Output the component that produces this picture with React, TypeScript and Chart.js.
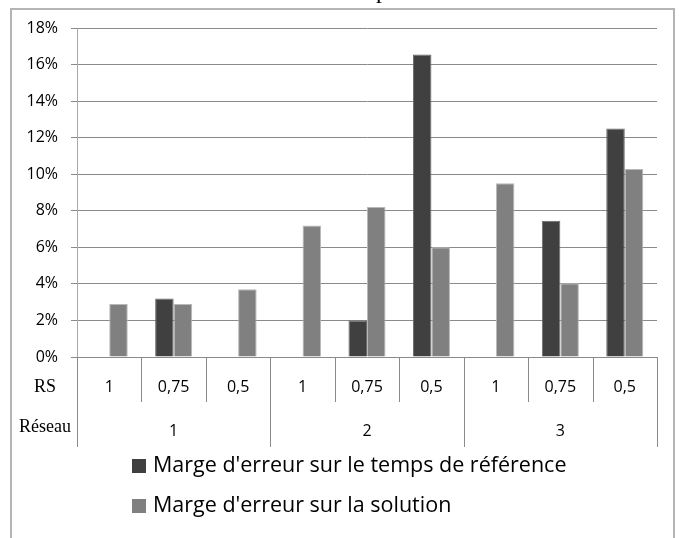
import React, { useEffect, useRef } from "react";
import { Chart, registerables } from "chart.js";

Chart.register(...registerables);

const rsLabels = ["1", "0,75", "0,5", "1", "0,75", "0,5", "1", "0,75", "0,5"];
const reseauLabels = ["1", "2", "3"];
const seriesNames = [
  "Marge d'erreur sur le temps de référence",
  "Marge d'erreur sur la solution",
];
const tempsRef: (number | null)[] = [null, 0.032, null, null, 0.02, 0.1655, null, 0.0745, 0.125];
const solution: (number | null)[] = [0.029, 0.029, 0.037, 0.072, 0.082, 0.06, 0.095, 0.0403, 0.1028];
const seriesColors = ["#404040", "#808080"];
const yTicks = [0, 0.02, 0.04, 0.06, 0.08, 0.1, 0.12, 0.14, 0.16, 0.18];

const SANS = "'Open Sans', 'Noto Sans', sans-serif";
const SERIF = "'Liberation Serif', 'DejaVu Serif', serif";
const LINE = "#8a8a8a";

const tablePlugin = {
  id: "tablePlugin",
  afterDraw(chart: any) {
    const ctx = chart.ctx;
    const x = chart.scales.x;
    const area = chart.chartArea;
    const n = rsLabels.length;
    const step = (area.right - area.left) / n;
    const top = area.bottom;
    const rsBottom = top + 45;
    const resBottom = top + 90;
    ctx.save();

    // outer frame
    ctx.strokeStyle = "#b4b4b4";
    ctx.lineWidth = 2;
    ctx.beginPath();
    ctx.moveTo(11, 560);
    ctx.lineTo(11, 9);
    ctx.lineTo(674, 9);
    ctx.lineTo(674, 560);
    ctx.stroke();

    // title fragment (clipped)
    ctx.fillStyle = "#000";
    ctx.font = `24px ${SERIF}`;
    ctx.textAlign = "center";
    ctx.textBaseline = "alphabetic";
    ctx.fillText("p", 382, -2);

    // table lines
    ctx.strokeStyle = LINE;
    ctx.lineWidth = 1;
    for (let i = 0; i <= n; i++) {
      const px = Math.round(area.left + i * step) + 0.5;
      const isGroup = i % 3 === 0;
      ctx.beginPath();
      ctx.moveTo(px, top);
      ctx.lineTo(px, isGroup ? resBottom : rsBottom);
      ctx.stroke();
    }

    // RS labels
    ctx.fillStyle = "#000";
    ctx.font = `16px ${SANS}`;
    ctx.textAlign = "center";
    ctx.textBaseline = "middle";
    rsLabels.forEach((lab, i) => {
      ctx.fillText(lab, x.getPixelForValue(i), top + 30);
    });
    reseauLabels.forEach((lab, g) => {
      const cx = (x.getPixelForValue(g * 3) + x.getPixelForValue(g * 3 + 2)) / 2;
      ctx.fillText(lab, cx, top + 74);
    });

    ctx.font = `18px ${SERIF}`;
    ctx.fillText("RS", 45, top + 30);
    ctx.fillText("Réseau", 45, top + 70);

    // legend
    ctx.font = `21.5px ${SANS}`;
    ctx.textAlign = "left";
    chart.data.datasets.forEach((ds: any, i: number) => {
      const cy = 466 + i * 40;
      ctx.fillStyle = ds.backgroundColor;
      ctx.fillRect(132, cy - 7, 14, 14);
      ctx.fillStyle = "#000";
      ctx.fillText(ds.label, 153, cy);
    });
    ctx.restore();
  },
};

export default function App() {
  const ref = useRef<HTMLCanvasElement>(null);
  useEffect(() => {
    if (!ref.current) return;
    const chart = new Chart(ref.current, {
      type: "bar",
      data: {
        labels: rsLabels.map((l, i) => `${reseauLabels[Math.floor(i / 3)]}-${l}`),
        datasets: [
          {
            label: seriesNames[0],
            data: tempsRef,
            backgroundColor: seriesColors[0],
            borderColor: "#6a6a6a",
            borderWidth: 1,
          },
          {
            label: seriesNames[1],
            data: solution,
            backgroundColor: seriesColors[1],
            borderColor: "#b8b8b8",
            borderWidth: 1,
          },
        ],
      },
      options: {
        animation: false,
        responsive: false,
        maintainAspectRatio: false,
        layout: { padding: { left: 0, top: 28, right: 22, bottom: 181 } },
        datasets: { bar: { categoryPercentage: 0.575, barPercentage: 1 } },
        plugins: { legend: { display: false }, tooltip: { enabled: false }, title: { display: false } },
        scales: {
          x: { display: false, offset: true },
          y: {
            min: 0,
            max: 0.18,
            afterFit: (s: any) => {
              s.width = 77;
            },
            afterBuildTicks: (s: any) => {
              s.ticks = yTicks.map((v) => ({ value: v }));
            },
            ticks: {
              padding: 13,
              color: "#000",
              font: { family: SANS, size: 16 },
              callback: (v: any) => `${Math.round(Number(v) * 100)}%`,
            },
            grid: { color: LINE, lineWidth: 1, tickLength: 6 },
            border: { display: true, color: "#a8a8a8", width: 1 },
          },
        },
      },
      plugins: [tablePlugin],
    });
    return () => chart.destroy();
  }, []);
  return (
    <div style={{ position: "absolute", left: 0, top: 0, width: 679, height: 538, background: "#fff" }}>
      <canvas ref={ref} width={679} height={538} style={{ display: "block" }} />
    </div>
  );
}
